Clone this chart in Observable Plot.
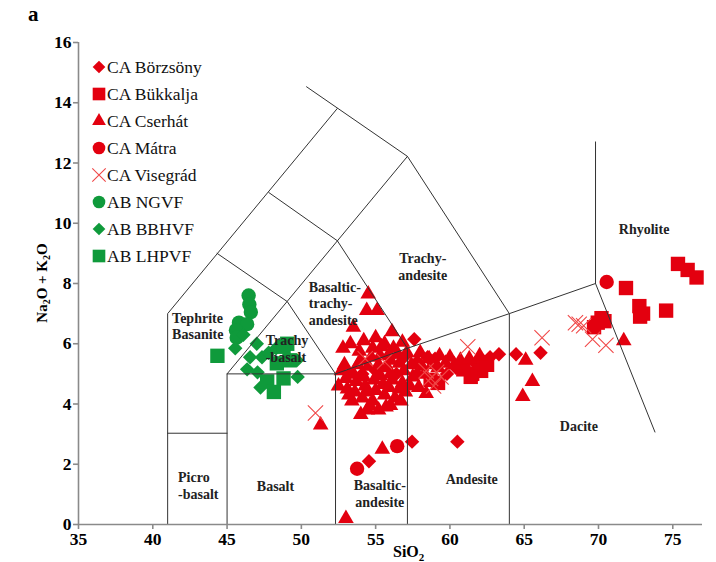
<!DOCTYPE html>
<html>
<head>
<meta charset="utf-8">
<script src="https://cdn.jsdelivr.net/npm/d3@7"></script>
<script src="https://cdn.jsdelivr.net/npm/@observablehq/plot@0.6"></script>
<style>
  body { margin: 0; background: #fff; }
  #chart { position: relative; width: 716px; height: 562px; }
</style>
</head>
<body>
<div id="chart"></div>
<script>
// Total alkali vs. silica (TAS) diagram — SiO2 (wt%) against Na2O + K2O (wt%)

const xTicks = [35, 40, 45, 50, 55, 60, 65, 70, 75];
const yTicks = [0, 2, 4, 6, 8, 10, 12, 14, 16];

// Sample compositions, [SiO2, Na2O + K2O]
const borzsony = [
  [57.6, 6.15], [60.5, 2.75], [57.45, 2.75], [54.55, 2.1], [64.45, 5.65], [66.1, 5.7],
  [63.3, 5.65], [62.7, 5.55], [62.2, 5.45], [61.7, 5.35], [61.0, 5.2], [60.4, 5.2],
  [59.8, 5.0], [59.0, 5.5], [58.5, 5.55], [57.8, 5.4], [56.9, 5.55], [56.4, 5.0],
  [55.0, 5.1], [54.1, 5.0]
];
const bukkalja = [
  [75.35, 8.65], [76.0, 8.45], [76.6, 8.2], [71.85, 7.85], [72.75, 7.25], [73.0, 7.0],
  [72.8, 6.9], [74.55, 7.1], [69.95, 6.7], [70.2, 6.85], [69.7, 6.55], [70.4, 6.75],
  [61.5, 5.0], [62.1, 5.1], [61.4, 4.9], [60.9, 5.15], [62.5, 5.3], [58.7, 4.8], [59.2, 4.7]
];
const cserhat = [
  [54.5, 7.65], [54.4, 7.1], [55.1, 7.1], [53.5, 6.55], [56.1, 6.4], [52.8, 5.85],
  [54.8, 5.85], [55.4, 5.9], [56.2, 5.85], [55.9, 5.65], [52.9, 5.3], [53.8, 5.3],
  [54.5, 5.25], [55.2, 5.3], [55.8, 5.2], [56.6, 5.35], [57.4, 5.3], [58.1, 5.25],
  [58.8, 5.3], [59.7, 5.35], [52.5, 4.6], [53.1, 4.5], [53.7, 4.75], [54.3, 4.6],
  [54.9, 4.8], [55.5, 4.65], [56.1, 4.8], [56.8, 4.7], [57.5, 4.9], [58.3, 5.0],
  [53.4, 4.1], [54.1, 4.2], [54.8, 4.1], [55.6, 4.3], [56.3, 4.2], [57.0, 4.4],
  [54.0, 3.65], [54.45, 3.8], [55.2, 3.8], [55.7, 3.9], [51.3, 3.3], [55.45, 2.5],
  [53.0, 0.2], [65.1, 5.45], [65.55, 4.75], [64.9, 4.25], [71.7, 6.1], [59.3, 5.6],
  [60.3, 5.3], [53.2, 5.0], [56.0, 5.0], [57.1, 5.7], [58.0, 5.7], [53.9, 5.75], [54.2, 6.1],
  [53.5, 5.0], [54.0, 5.45], [54.7, 5.55], [55.3, 5.6], [56.0, 5.45], [56.5, 5.65],
  [53.0, 4.85], [53.6, 4.4], [54.4, 4.4], [55.0, 4.45], [55.9, 4.55], [56.6, 4.5],
  [57.3, 4.6], [57.8, 5.0], [58.6, 5.5], [59.2, 5.2], [60.0, 5.55], [60.7, 5.45],
  [61.3, 5.5], [62.0, 5.6], [53.3, 6.0], [55.0, 6.2], [55.6, 6.0], [56.8, 6.05],
  [52.7, 5.1], [53.2, 4.3], [54.6, 3.95], [56.0, 3.95], [56.7, 4.1],
  [57.9, 4.55], [58.4, 4.35], [55.3, 4.95], [54.2, 4.9], [56.9, 5.1]
];
const matra = [[53.75, 1.85], [56.45, 2.6], [70.55, 8.05]];
const visegrad = [
  [50.95, 3.7], [61.2, 5.9], [66.2, 6.2], [68.7, 6.65], [68.45, 6.7], [69.0, 6.6],
  [69.6, 6.15], [70.5, 5.95], [58.7, 4.85], [59.1, 5.05], [58.9, 4.6], [58.4, 5.1],
  [54.3, 5.5], [55.6, 5.4], [59.4, 4.9]
];
const ngvf = [[46.45, 7.6], [46.5, 7.3], [46.6, 7.05], [45.8, 6.7], [46.35, 6.65], [45.6, 6.45], [45.65, 6.2]];
const bbhvf = [
  [45.55, 5.85], [46.1, 6.3], [47.0, 6.0], [46.55, 5.55], [46.35, 5.15], [47.05, 5.05],
  [47.35, 5.55], [49.7, 5.45], [49.75, 4.9], [47.25, 4.55], [47.8, 5.7], [48.3, 5.85]
];
const lhpvf = [[44.35, 5.6], [49.05, 6.0], [48.35, 5.35], [47.7, 4.75], [48.15, 4.4], [48.8, 4.85], [49.2, 5.45], [48.8, 5.9]];

const seriesNames = ["CA Börzsöny", "CA Bükkalja", "CA Cserhát", "CA Mátra", "CA Visegrád", "AB NGVF", "AB BBHVF", "AB LHPVF"];
const seriesData = [borzsony, bukkalja, cserhat, matra, visegrad, ngvf, bbhvf, lhpvf];

// Field boundaries of the classification grid, [SiO2, Na2O + K2O]
const boundaries = [
  [[41, 0], [41, 7], [52.42, 13.81]],
  [[41, 3.03], [45, 3.03]],
  [[45, 0], [45, 5], [57.14, 12.22]],
  [[45, 5], [52.3, 5], [52.3, 0]],
  [[44.33, 9.0], [49.05, 7.4], [52.3, 5]],
  [[47.81, 11.02], [52.42, 9.42], [57.14, 5.85], [57.14, 0]],
  [[52.3, 5], [57.14, 5.85], [64, 7], [69.8, 8]],
  [[50.35, 14.53], [57.14, 12.22], [64, 7], [64, 0]],
  [[69.8, 12.7], [69.8, 8], [73.8, 3.07]]
];

// Field names with their anchor positions in data space
const fieldNames = ["Tephrite\nBasanite", "Trachy\n-basalt", "Basaltic-\ntrachy-\nandesite", "Picro\n-basalt"];
const fieldX = [41.3, 47.6, 50.5, 41.7];
const fieldY = [6.6, 5.85, 7.36, 1.3];
const centeredNames = ["Trachy-\nandesite", "Rhyolite", "Dacite", "Andesite", "Basaltic-\nandesite", "Basalt"];
const centeredX = [58.17, 73.07, 68.68, 61.47, 55.28, 48.26];
const centeredY = [8.57, 9.81, 3.27, 1.51, 1.04, 1.28];

// Marker styles per series
const red = "#e3000f";
const green = "#0f9a3b";
const styles = [
  {symbol: "diamond2", r: 6.5, fill: red},
  {symbol: "square", r: 8.1, fill: red},
  {symbol: "triangle", r: 5.8, fill: red},
  {symbol: "circle", r: 7.2, fill: red},
  {symbol: "times", r: 7, fill: "none", stroke: "#f04848", strokeWidth: 1.1},
  {symbol: "circle", r: 7.2, fill: green},
  {symbol: "diamond2", r: 6.5, fill: green},
  {symbol: "square", r: 8.1, fill: green}
];

const boundaryRows = boundaries.flatMap((line, i) => line.map(([x, y]) => ({x, y, id: i})));
const serif = "Liberation Serif, Times New Roman, serif";

const plot = Plot.plot({
  width: 716,
  height: 562,
  marginLeft: 78,
  marginRight: 14,
  marginTop: 42,
  marginBottom: 38,
  x: {domain: [35, 77]},
  y: {domain: [0, 16]},
  marks: [
    ...seriesData.map((data, i) => Plot.dot(data, {x: d => d[0], y: d => d[1], ...styles[i]})),
    Plot.line(boundaryRows, {x: "x", y: "y", z: "id", stroke: "#333", strokeWidth: 1}),
    Plot.text(fieldNames, {x: (d, i) => fieldX[i], y: (d, i) => fieldY[i], text: d => d, textAnchor: "start",
      fontFamily: serif, fontWeight: "bold", fontSize: 14, lineHeight: 1.18, fill: "#222"}),
    Plot.text(centeredNames, {x: (d, i) => centeredX[i], y: (d, i) => centeredY[i], text: d => d,
      fontFamily: serif, fontWeight: "bold", fontSize: 14, lineHeight: 1.18, fill: "#222"}),
    Plot.ruleY([0], {stroke: "#8a8a8a", strokeWidth: 1.6}),
    Plot.ruleX([35], {stroke: "#8a8a8a", strokeWidth: 1.6}),
    Plot.axisX({ticks: xTicks, tickSize: 5, tickPadding: 3, stroke: "#8a8a8a", strokeWidth: 1.6, label: null,
      fontFamily: serif, fontWeight: "bold", fontSize: 17.5}),
    Plot.axisY({ticks: yTicks, tickSize: 5, tickPadding: 2, stroke: "#8a8a8a", strokeWidth: 1.6, label: null,
      fontFamily: serif, fontWeight: "bold", fontSize: 17.5})
  ]
});

document.getElementById("chart").appendChild(plot);

// Panel letter, axis titles with subscripts, and the legend
const svg = d3.select(plot);

svg.append("text")
  .attr("x", 28).attr("y", 21)
  .attr("text-anchor", "start")
  .attr("font-family", serif).attr("font-weight", "bold").attr("font-size", 21)
  .attr("fill", "#000")
  .text("a");

const xTitle = svg.append("text")
  .attr("x", 393).attr("y", 557)
  .attr("text-anchor", "start")
  .attr("font-family", serif).attr("font-weight", "bold").attr("font-size", 16)
  .attr("fill", "#000");
xTitle.append("tspan").text("SiO");
xTitle.append("tspan").attr("font-size", 11).attr("dy", 4).text("2");

const yTitle = svg.append("text")
  .attr("transform", "translate(47,283) rotate(-90)")
  .attr("text-anchor", "middle")
  .attr("font-family", serif).attr("font-weight", "bold").attr("font-size", 15)
  .attr("fill", "#000");
yTitle.append("tspan").text("Na");
yTitle.append("tspan").attr("font-size", 10).attr("dy", 3).text("2");
yTitle.append("tspan").attr("dy", -3).text("O + K");
yTitle.append("tspan").attr("font-size", 10).attr("dy", 3).text("2");
yTitle.append("tspan").attr("dy", -3).text("O");

const symbolTypes = {circle: d3.symbolCircle, square: d3.symbolSquare, triangle: d3.symbolTriangle,
  diamond2: d3.symbolDiamond2, times: d3.symbolTimes};
const legend = svg.append("g").attr("transform", "translate(99,67)");
seriesNames.forEach((name, i) => {
  const s = styles[i];
  const r = s.r * 0.88;
  const row = legend.append("g").attr("transform", `translate(0,${i * 27})`);
  row.append("path")
    .attr("d", d3.symbol(symbolTypes[s.symbol], Math.PI * r * r)())
    .attr("fill", s.fill)
    .attr("stroke", s.stroke || "none")
    .attr("stroke-width", s.strokeWidth || 0);
  row.append("text")
    .attr("x", 8).attr("dy", "0.35em")
    .attr("text-anchor", "start")
    .attr("font-family", serif).attr("font-size", 17.5).attr("fill", "#111")
    .text(name);
});
</script>
</body>
</html>
